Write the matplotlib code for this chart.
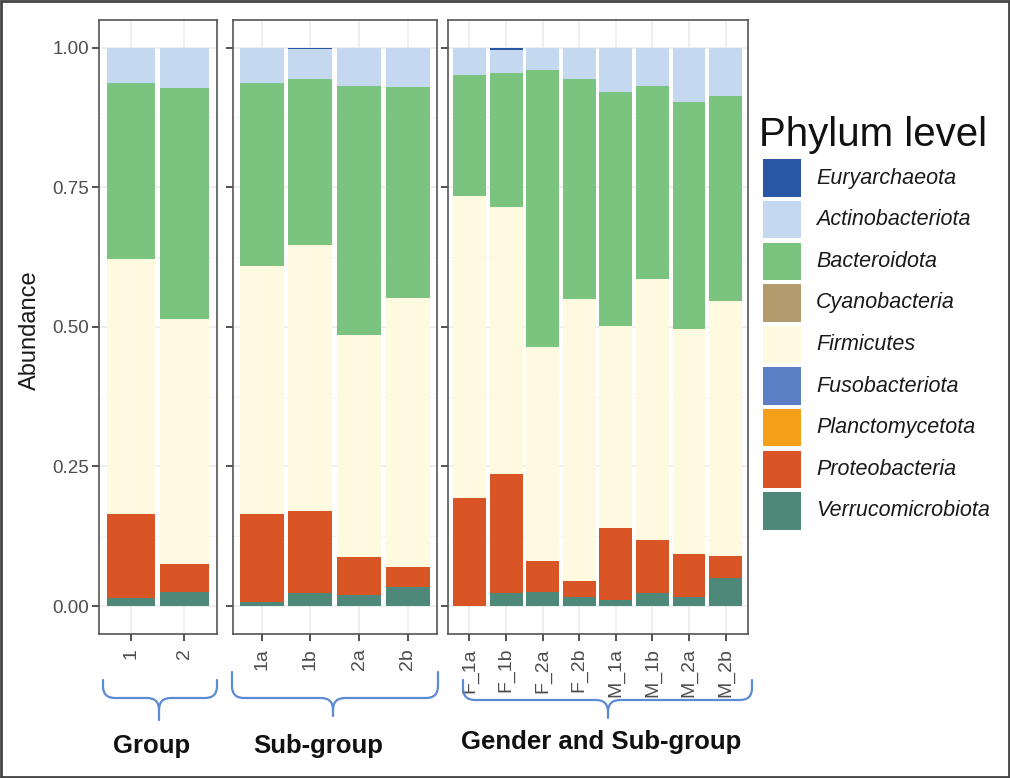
import matplotlib
matplotlib.use("Agg")
import matplotlib.pyplot as plt
from matplotlib.path import Path
from matplotlib.patches import PathPatch, Rectangle
import numpy as np

plt.rcParams['font.family'] = ['Liberation Sans', 'DejaVu Sans']

# ---------------- data ----------------
phyla = ["Euryarchaeota", "Actinobacteriota", "Bacteroidota", "Cyanobacteria",
         "Firmicutes", "Fusobacteriota", "Planctomycetota", "Proteobacteria",
         "Verrucomicrobiota"]
colors = ["#2a57a5", "#c4d8f0", "#7ac47f", "#b39b6e", "#fefadf",
          "#5b7fc4", "#f6a01a", "#d95525", "#4e8878"]

group_cats = ["1", "2"]
group_vals = {
    "Verrucomicrobiota": [0.014, 0.025],
    "Proteobacteria":    [0.150, 0.050],
    "Planctomycetota":   [0.0, 0.0],
    "Fusobacteriota":    [0.0, 0.0],
    "Firmicutes":        [0.458, 0.439],
    "Cyanobacteria":     [0.0, 0.0],
    "Bacteroidota":      [0.314, 0.414],
    "Actinobacteriota":  [0.064, 0.072],
    "Euryarchaeota":     [0.0, 0.0],
}

sub_cats = ["1a", "1b", "2a", "2b"]
sub_vals = {
    "Verrucomicrobiota": [0.007, 0.023, 0.020, 0.035],
    "Proteobacteria":    [0.158, 0.147, 0.068, 0.035],
    "Planctomycetota":   [0.0, 0.0, 0.0, 0.0],
    "Fusobacteriota":    [0.0, 0.0, 0.0, 0.0],
    "Firmicutes":        [0.444, 0.476, 0.397, 0.482],
    "Cyanobacteria":     [0.0, 0.0, 0.0, 0.0],
    "Bacteroidota":      [0.327, 0.297, 0.447, 0.378],
    "Actinobacteriota":  [0.064, 0.054, 0.068, 0.070],
    "Euryarchaeota":     [0.0, 0.003, 0.0, 0.0],
}

gs_cats = ["F_1a", "F_1b", "F_2a", "F_2b", "M_1a", "M_1b", "M_2a", "M_2b"]
gs_vals = {
    "Verrucomicrobiota": [0.001, 0.023, 0.026, 0.017, 0.011, 0.024, 0.016, 0.051],
    "Proteobacteria":    [0.193, 0.213, 0.054, 0.027, 0.129, 0.095, 0.078, 0.038],
    "Planctomycetota":   [0.0] * 8,
    "Fusobacteriota":    [0.0] * 8,
    "Firmicutes":        [0.540, 0.478, 0.383, 0.505, 0.361, 0.466, 0.402, 0.457],
    "Cyanobacteria":     [0.0] * 8,
    "Bacteroidota":      [0.216, 0.240, 0.497, 0.395, 0.419, 0.346, 0.407, 0.368],
    "Actinobacteriota":  [0.050, 0.041, 0.040, 0.056, 0.080, 0.069, 0.097, 0.086],
    "Euryarchaeota":     [0.0, 0.005, 0.0, 0.0, 0.0, 0.0, 0.0, 0.0],
}

y_ticks = [0.0, 0.25, 0.5, 0.75, 1.0]
y_ticklabels = ["0.00", "0.25", "0.50", "0.75", "1.00"]
group_titles = ["Group", "Sub-group", "Gender and Sub-group"]

# ---------------- figure ----------------
W, H = 1010, 778
fig = plt.figure(figsize=(W / 100, H / 100), dpi=100)
fig.patch.set_facecolor("white")

top_px, bot_px = 19.6, 634.0
panels = [
    (98.5, 216.7, group_cats, group_vals, True),
    (232.5, 437.0, sub_cats, sub_vals, False),
    (447.5, 747.5, gs_cats, gs_vals, False),
]

stack_order = phyla[::-1]  # bottom -> top
col_of = dict(zip(phyla, colors))

for (x0, x1, cats, vals, show_lab) in panels:
    ax = fig.add_axes([x0 / W, 1 - bot_px / H, (x1 - x0) / W, (bot_px - top_px) / H])
    n = len(cats)
    x = np.arange(n)
    bottom = np.zeros(n)
    for ph in stack_order:
        v = np.array(vals[ph], dtype=float)
        ax.bar(x, v, width=0.9, bottom=bottom, color=col_of[ph], edgecolor="none",
               linewidth=0, zorder=2)
        bottom += v
    ax.set_xlim(-0.6, n - 0.4)
    ax.set_ylim(-0.05, 1.05)
    ax.set_xticks(x)
    ax.set_xticklabels(cats, rotation=90, fontsize=14, color="#4d4d4d")
    ax.set_yticks(y_ticks)
    ax.set_yticks([0.125, 0.375, 0.625, 0.875], minor=True)
    if show_lab:
        ax.set_yticklabels(y_ticklabels, fontsize=13.5, color="#4d4d4d")
    else:
        ax.set_yticklabels([])
    ax.tick_params(axis="both", which="major", length=5, width=1.2, color="#333333", pad=2)
    ax.tick_params(axis="x", which="major", pad=5)
    ax.tick_params(axis="y", which="minor", length=0)
    ax.grid(True, which="major", color="#ebebeb", linewidth=1.1, zorder=0)
    ax.grid(True, which="minor", axis="y", color="#f2f2f2", linewidth=0.6, zorder=0)
    ax.set_axisbelow(True)
    for s in ax.spines.values():
        s.set_color("#555555")
        s.set_linewidth(1.2)

# overlay in pixel coordinates for annotations
ov = fig.add_axes([0, 0, 1, 1], zorder=10)
ov.set_xlim(0, W)
ov.set_ylim(H, 0)
ov.axis("off")
ov.patch.set_alpha(0)

ov.text(30, 330, "Abundance", rotation=90, ha="center", va="center", fontsize=17, color="#1a1a1a")

def brace(x0, x1, xc, ytop, ymid, ybot, r=12, color="#5b8bd0"):
    verts = [(x0, ytop), (x0, ymid - r), (x0, ymid), (x0 + r, ymid),
             (xc - r, ymid), (xc, ymid), (xc, ymid + r), (xc, ybot),
             (xc, ymid + r), (xc, ymid), (xc + r, ymid),
             (x1 - r, ymid), (x1, ymid), (x1, ymid - r), (x1, ytop)]
    codes = [Path.MOVETO, Path.LINETO, Path.CURVE3, Path.CURVE3,
             Path.LINETO, Path.CURVE3, Path.CURVE3, Path.LINETO,
             Path.MOVETO, Path.CURVE3, Path.CURVE3,
             Path.LINETO, Path.CURVE3, Path.CURVE3, Path.LINETO]
    ov.add_patch(PathPatch(Path(verts, codes), facecolor="none", edgecolor=color,
                           linewidth=1.6, capstyle="round", joinstyle="round"))

brace(103, 217, 159, 680, 698, 720)
brace(232, 438, 333, 672, 698, 716)
brace(463, 752, 608, 680, 700, 718)

title_pos = [(152, 746), (318, 746), (601, 742)]
for (tx, ty), t in zip(title_pos, group_titles):
    ov.text(tx, ty, t, ha="center", va="center", fontsize=18.5, fontweight="bold", color="#111111")

# legend (manual)
ov.text(759, 135, "Phylum level", ha="left", va="center", fontsize=29, color="#111111")
key_top0, key_step, key_h = 159.3, 41.6, 37.5
for i, (ph, c) in enumerate(zip(phyla, colors)):
    yt = key_top0 + i * key_step
    ov.add_patch(Rectangle((763, yt), 38, key_h, facecolor=c, edgecolor="none"))
    ov.text(816, yt + key_h / 2, ph, ha="left", va="center", fontsize=15.5,
            style="italic", color="#1a1a1a")

# outer border
ov.add_patch(Rectangle((1, 1), W - 2, H - 2, facecolor="none", edgecolor="#444444", linewidth=2))

fig.savefig("out.png", dpi=100)
